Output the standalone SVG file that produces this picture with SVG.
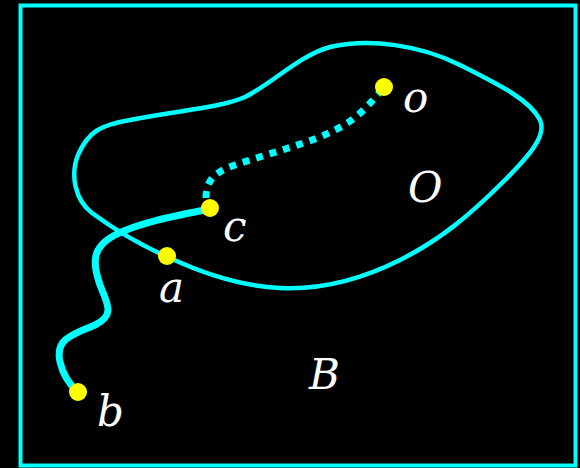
<svg xmlns="http://www.w3.org/2000/svg" width="580" height="468" viewBox="0 0 580 468">
<style>
.lbl{font-family:"DejaVu Serif","Liberation Serif",serif;font-style:italic;font-size:42px;fill:#fff}
.pt{fill:#ffff00}
.cy{fill:none;stroke:#00ffff;stroke-linecap:round;stroke-linejoin:round}
</style>
<rect x="0" y="0" width="580" height="468" fill="#000"/>
<rect x="20.5" y="5.5" width="555" height="460" fill="none" stroke="#00ffff" stroke-width="4"/>
<g id="region-O">
<path class="cy" stroke-width="4.5" d="M 92,213 C 75,200 70,175 78,155 C 88,132 100,125 130,120 C 180,110 220,108 245,97 C 270,85 300,55 330,47 C 370,38 420,45 460,65 C 500,85 530,100 540,120 C 547,135 530,155 505,180 C 470,215 440,240 400,260 C 360,280 320,290 280,288 C 240,286 200,272 170,258 C 140,245 115,230 92,213 Z"/>
</g>
<g id="connectors">
<path class="cy" stroke-width="7" d="M 210,209 C 180,215 140,222 115,235 C 92,247 92,262 100,285 C 108,305 115,315 95,325 C 70,335 55,340 60,362 C 63,375 70,385 78,392"/>
<path fill="none" stroke="#00ffff" stroke-width="7" stroke-dasharray="7 7" d="M 206,198 C 206,180 215,172 235,165 C 270,153 310,143 335,130 C 355,120 365,110 384,87"/>
</g>
<g id="node-o"><circle class="pt" cx="384" cy="87" r="9"/><text class="lbl" x="403" y="112">o</text></g>
<g id="node-c"><circle class="pt" cx="210" cy="208" r="9"/><text class="lbl" x="223" y="241">c</text></g>
<g id="node-a"><circle class="pt" cx="167" cy="256" r="9"/><text class="lbl" x="159" y="302">a</text></g>
<g id="node-b"><circle class="pt" cx="78" cy="392" r="9"/><text class="lbl" x="97" y="426">b</text></g>
<g id="label-O"><text class="lbl" x="408" y="202">O</text></g>
<g id="label-B"><text class="lbl" x="309" y="389">B</text></g>
</svg>
